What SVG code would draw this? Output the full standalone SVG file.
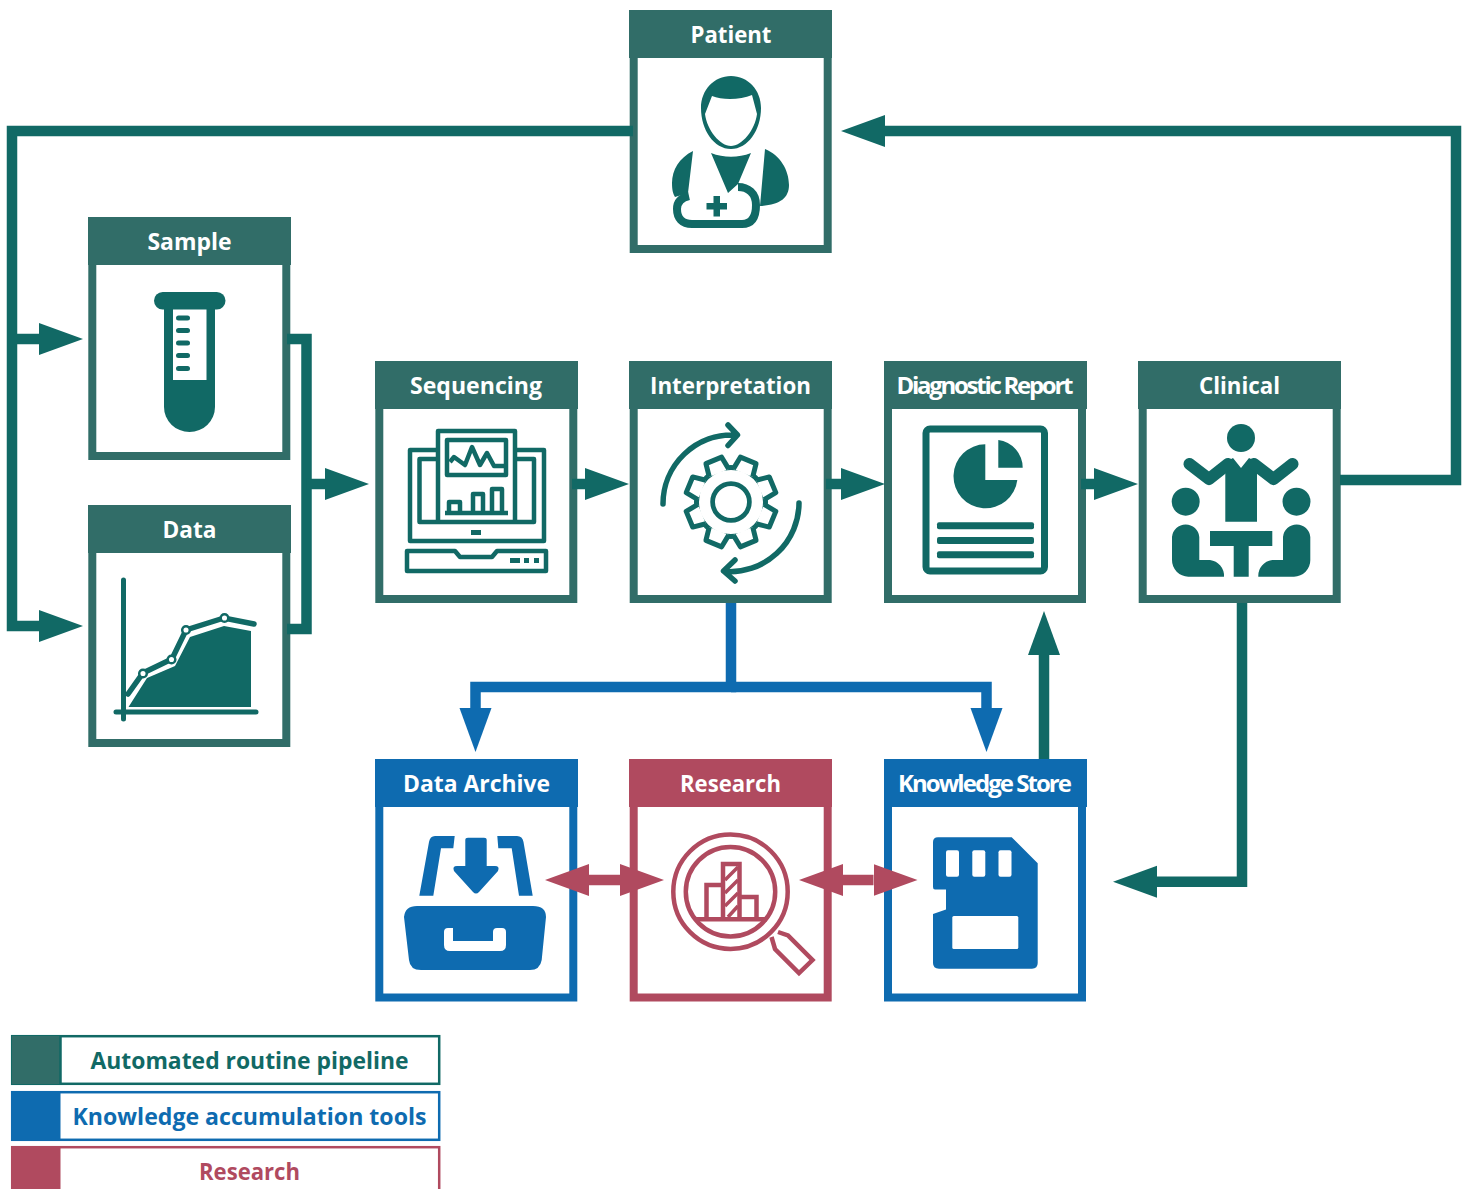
<svg xmlns="http://www.w3.org/2000/svg" width="1467" height="1189" viewBox="0 0 1467 1189">
<style>
.t{font-family:"Open Sans","Noto Sans",sans-serif;font-weight:700;text-anchor:middle}
.h{font-size:24px;fill:#fff}
.l{font-size:24px}
.body{fill:#fff;stroke-width:8}
.teal .body{stroke:#316d68}.teal .head{fill:#316d68}
.blue .body{stroke:#0e6bb0}.blue .head{fill:#0e6bb0}
.red .body{stroke:#b04a5f}.red .head{fill:#b04a5f}
.ti{fill:#116965}.bi{fill:#0e6bb0}
.tl{fill:none;stroke:#116965;stroke-width:4.5;stroke-linejoin:round}
.rl{fill:none;stroke:#b04a5f;stroke-width:4.5;stroke-linejoin:miter}
.c{fill:none;stroke-width:10.5;stroke-linejoin:miter}
.ct{stroke:#116965}.cb{stroke:#0e6bb0}.cr{stroke:#b04a5f}
</style>
<defs>
<marker id="at" markerUnits="userSpaceOnUse" markerWidth="45" markerHeight="33" refX="0" refY="16.5" orient="auto-start-reverse"><path d="M0 .5L44 16.5L0 32.500Z" fill="#116965"/></marker>
<marker id="ab" markerUnits="userSpaceOnUse" markerWidth="45" markerHeight="33" refX="0" refY="16.5" orient="auto-start-reverse"><path d="M0 .5L44 16.5L0 32.500Z" fill="#0e6bb0"/></marker>
<marker id="ar" markerUnits="userSpaceOnUse" markerWidth="45" markerHeight="33" refX="0" refY="16.5" orient="auto-start-reverse"><path d="M0 .5L44 16.5L0 32.500Z" fill="#b04a5f"/></marker>
</defs>

<g id="node-patient" class="teal">
<rect class="body" x="633.700" y="40" width="194" height="209"/><rect class="head" x="629" y="10" width="203" height="48"/>
<text class="t h" x="731" y="43" textLength="81" lengthAdjust="spacingAndGlyphs">Patient</text>
<path class="ti" fill-rule="evenodd" d="M731 76C748 76 761 90 761 108C761 130 748 149 731 149C714 149 701 130 701 108C701 90 714 76 731 76ZM705 114C707 130 720 146 731 146C742 146 755 130 757 114L752 95C740 100 722 100 712 96Z"/>
<path class="ti" d="M693 151C679 158 672 170 672 183C672 190 673 194 675 197L688 193ZM711 153C724 158 738 158 751 153L738 184L728 193ZM765 149C780 155 789 170 789 185C789 198 780 205 760 206Z"/>
<path d="M689 196C680 198 677 203 677 209C677 218 682 224 692 224L742 224C751 224 756 218 756 205C756 193 748 187 738 187" fill="none" stroke="#116965" stroke-width="8"/>
<path class="ti" d="M713.500 196H720V203H727V209.500H720V216.500H713.500V209.500H706.500V203H713.500Z"/>
</g>

<g id="node-sample" class="teal">
<rect class="body" x="92.300" y="247" width="194" height="209"/><rect class="head" x="88" y="217" width="203" height="48"/>
<text class="t h" x="189.500" y="250" textLength="84" lengthAdjust="spacingAndGlyphs">Sample</text>
<path class="ti" d="M164 300H215V407A25.500 25 0 0 1 164 407Z"/>
<rect class="ti" x="154" y="292" width="71.500" height="17.500" rx="8.700"/>
<rect x="173" y="309.500" width="33.500" height="70.500" fill="#fff"/>
<g class="ti"><rect x="176" y="315.500" width="14" height="5" rx="2.500"/><rect x="176" y="328" width="14" height="5" rx="2.500"/><rect x="176" y="340.500" width="14" height="5" rx="2.500"/><rect x="176" y="353" width="14" height="5" rx="2.500"/><rect x="176" y="366" width="14" height="5" rx="2.500"/></g>
</g>

<g id="node-data" class="teal">
<rect class="body" x="92.300" y="535" width="194" height="208"/><rect class="head" x="88" y="505" width="203" height="48"/>
<text class="t h" x="189.500" y="538" textLength="54" lengthAdjust="spacingAndGlyphs">Data</text>
<path class="ti" d="M128.500 707L147 678L175 666L190 637L224 626L251 631V707Z"/>
<path d="M123.500 580V719M116 712H256" fill="none" stroke="#116965" stroke-width="5" stroke-linecap="round"/>
<path d="M128 694L143 673L172 659L186 630L224 618L254 624" fill="none" stroke="#116965" stroke-width="5.500" stroke-linecap="round"/>
<g fill="#fff" stroke="#116965" stroke-width="2.500"><circle cx="143" cy="673.500" r="3.800"/><circle cx="171.500" cy="659.500" r="3.800"/><circle cx="186" cy="630" r="3.800"/><circle cx="224.500" cy="618" r="3.800"/></g>
</g>

<g id="node-sequencing" class="teal">
<rect class="body" x="379.300" y="391" width="194" height="208"/><rect class="head" x="375" y="361" width="203" height="48"/>
<text class="t h" x="476" y="394" textLength="132" lengthAdjust="spacingAndGlyphs">Sequencing</text>
<g class="tl"><path d="M438 450H410V541H544V450H515"/><path d="M438 459H419.500V522H534V459H515"/><path d="M438 522V431H515V522"/><rect x="447" y="440" width="59" height="35"/><path d="M450 462L454 457L465 465L472 447L480 465L487 453L494 466H506"/><path d="M445 513H508M449 513V502H460V513M473 513V494H483V513M492 513V489H502V513"/><path d="M407 551H455L460 557H492L497 551H546V571H407Z"/></g>
<g class="ti"><rect x="471" y="530" width="10" height="5"/><rect x="510" y="558" width="10" height="5"/><rect x="524" y="558" width="5" height="5"/><rect x="534" y="558" width="5" height="5"/></g>
</g>

<g id="node-interpretation" class="teal">
<rect class="body" x="633.700" y="391" width="194" height="208"/><rect class="head" x="629" y="361" width="203" height="48"/>
<text class="t h" x="730.500" y="394" textLength="161" lengthAdjust="spacingAndGlyphs">Interpretation</text>
<g transform="translate(731 502)" stroke="#116965" stroke-width="5" stroke-linejoin="round">
<circle r="34.500" fill="none"/><circle r="18.400" fill="none" stroke-width="4.700"/>
<g fill="#fff"><path transform="rotate(22.500)" d="M-10.500-31.500L-8.500-45H8.500L10.500-31.500"/><path transform="rotate(67.500)" d="M-10.500-31.500L-8.500-45H8.500L10.500-31.500"/><path transform="rotate(112.500)" d="M-10.500-31.500L-8.500-45H8.500L10.500-31.500"/><path transform="rotate(157.500)" d="M-10.500-31.500L-8.500-45H8.500L10.500-31.500"/><path transform="rotate(202.500)" d="M-10.500-31.500L-8.500-45H8.500L10.500-31.500"/><path transform="rotate(247.500)" d="M-10.500-31.500L-8.500-45H8.500L10.500-31.500"/><path transform="rotate(292.500)" d="M-10.500-31.500L-8.500-45H8.500L10.500-31.500"/><path transform="rotate(337.500)" d="M-10.500-31.500L-8.500-45H8.500L10.500-31.500"/></g>
</g>
<path d="M663 504A69 69 0 0 1 735 435M728 425L737.500 435L728 445.500M799 503A69 69 0 0 1 725 571.500M735 560L723.500 571L735 581" fill="none" stroke="#116965" stroke-width="5.500" stroke-linecap="round" stroke-linejoin="round"/>
</g>

<g id="node-diagnostic-report" class="teal">
<rect class="body" x="888" y="391" width="194" height="208"/><rect class="head" x="884" y="361" width="203" height="48"/>
<text class="t h" x="985" y="394" textLength="177" lengthAdjust="spacing">Diagnostic Report</text>
<rect x="926" y="429" width="118.500" height="142" rx="4" fill="none" stroke="#116965" stroke-width="7"/>
<path class="ti" d="M985.300 444.300V480H1017.300A32 32 0 1 1 985.300 444.300ZM998.300 440V467.700H1022.700A28 28 0 0 0 998.300 440Z"/>
<g class="ti"><rect x="937" y="522.300" width="97" height="7" rx="2"/><rect x="937" y="537" width="97" height="7" rx="2"/><rect x="937" y="551.300" width="97" height="7" rx="2"/></g>
</g>

<g id="node-clinical" class="teal">
<rect class="body" x="1142.700" y="391" width="194" height="208"/><rect class="head" x="1138" y="361" width="203" height="48"/>
<text class="t h" x="1239.500" y="394" textLength="81" lengthAdjust="spacingAndGlyphs">Clinical</text>
<g class="ti"><circle cx="1241" cy="438" r="14"/><circle cx="1185.700" cy="501.700" r="14"/><circle cx="1296.500" cy="501.700" r="14"/>
<path d="M1225.300 521.700V462L1233 458L1241 468L1249 458L1257 462V521.700Z"/>
<path d="M1172 537A13.700 13.700 0 0 1 1199.300 537V560H1210A16 16 0 0 1 1224 576.700H1188.300A16.500 16.500 0 0 1 1172 560Z"/>
<path d="M1310.300 537A13.700 13.700 0 0 0 1283 537V560H1272.300A16 16 0 0 0 1258.300 576.700H1294A16.500 16.500 0 0 0 1310.300 560Z"/>
<path d="M1210 531H1272.300V546H1248.700V576.700H1233.700V546H1210Z"/></g>
<path d="M1189.500 464L1209 479L1228 464M1292.500 464L1273.500 479L1254 464" fill="none" stroke="#116965" stroke-width="12" stroke-linecap="round" stroke-linejoin="round"/>
</g>

<g id="node-data-archive" class="blue">
<rect class="body" x="379.300" y="789" width="194" height="208.500"/><rect class="head" x="375" y="759" width="203" height="48"/>
<text class="t h" x="476.500" y="792" textLength="147" lengthAdjust="spacingAndGlyphs">Data Archive</text>
<path class="bi" d="M404 917Q405 906 417 906H533Q546 906 546 917L541.700 960Q540 970 530 970H421Q410 970 409 960Z"/>
<path fill="#fff" d="M444 932Q444 928 448 928H453V941H493V932Q493 928 497 928H502Q506 928 506 932V945Q506 951 500 951H450Q444 951 444 945Z"/>
<path class="bi" d="M468 837.700H484Q486.700 837.700 486.700 840V866H495Q500 866 498 871L479 892Q476 895 473 892L454 871Q452 866 457 866H465.300V840Q465.300 837.700 468 837.700Z"/>
<path class="bi" d="M419.300 895.700L429 842Q430 836 435 836H454.700L453.300 848.300H441L433.300 895.700ZM532.700 895.700L523.500 842Q522.500 836 517 836H497.300L498.300 848.300H511.700L519 895.700Z"/>
</g>

<g id="node-research" class="red">
<rect class="body" x="633.700" y="789" width="194" height="208.500"/><rect class="head" x="629" y="759" width="203" height="48"/>
<text class="t h" x="730.500" y="792" textLength="101" lengthAdjust="spacingAndGlyphs">Research</text>
<g class="rl"><circle cx="730.500" cy="891.700" r="57.200"/><circle cx="730.500" cy="891.700" r="44.700"/><path d="M695 919.300H767"/><path d="M706.500 919V885H723M723 919V864H739.500V919M739.500 897H756.500V919"/>
<path d="M725 880L738 867M725 893L738 880M725 906L738 893M728 917L738 906" stroke-width="3.500"/>
<path d="M771.500 937L775 949L799 973L812.500 960L788 935.500L778 932"/></g>
</g>

<g id="node-knowledge-store" class="blue">
<rect class="body" x="888" y="789" width="194" height="208.500"/><rect class="head" x="884" y="759" width="203" height="48"/>
<text class="t h" x="985" y="792" textLength="174" lengthAdjust="spacing">Knowledge Store</text>
<path class="bi" fill-rule="evenodd" d="M938 837.300H1011.700L1037.700 863.300V963Q1037.700 968.700 1032 968.700H939Q933 968.700 933 963V914L946 909.500V889.500H935Q933 889.500 933 887V842Q933 837.300 938 837.300Z"/>
<g fill="#fff"><rect x="946" y="850.300" width="13" height="26.400" rx="2"/><rect x="972.300" y="850.300" width="13" height="26.400" rx="2"/><rect x="998.500" y="850.300" width="13" height="26.400" rx="2"/><rect x="952.300" y="916" width="66" height="33" rx="1.500"/></g>
</g>

<g id="connectors">
<path class="c ct" d="M633 131H12V626H39" marker-end="url(#at)"/>
<path class="c ct" d="M12 339H39" marker-end="url(#at)"/>
<path class="c ct" d="M287 339H306.500V629H287" />
<path class="c ct" d="M306.500 484H325" marker-end="url(#at)"/>
<path class="c ct" d="M572 484H585" marker-end="url(#at)"/>
<path class="c ct" d="M826 484H841" marker-end="url(#at)"/>
<path class="c ct" d="M1081 484H1094" marker-end="url(#at)"/>
<path class="c ct" d="M1340 480H1456V131H885" marker-end="url(#at)"/>
<path class="c ct" d="M1242 603V881.700H1157" marker-end="url(#at)"/>
<path class="c ct" d="M1044 759V655" marker-end="url(#at)"/>
<path class="c cb" d="M731 603V687H475.500V708" marker-end="url(#ab)"/>
<path class="c cb" d="M731 687H986.500V708" marker-end="url(#ab)"/>
<path class="c cr" d="M589 880H620" marker-start="url(#ar)" marker-end="url(#ar)"/>
<path class="c cr" d="M843 880H873.500" marker-start="url(#ar)" marker-end="url(#ar)"/>
</g>

<g id="legend-automated">
<rect x="12.200" y="1036.200" width="427" height="47.600" fill="#fff" stroke="#116965" stroke-width="2.500"/><rect x="12" y="1036" width="48.500" height="48" fill="#316d68"/><path d="M60.500 1036V1084" stroke="#116965" stroke-width="2.500"/>
<text class="t l" x="249.500" y="1069" fill="#116965" textLength="318" lengthAdjust="spacingAndGlyphs">Automated routine pipeline</text>
</g>
<g id="legend-knowledge">
<rect x="12.200" y="1092.200" width="427" height="47.600" fill="#fff" stroke="#0e6bb0" stroke-width="2.500"/><rect x="12" y="1092" width="48.500" height="48" fill="#0e6bb0"/>
<text class="t l" x="249.500" y="1125" fill="#0e6bb0" textLength="354" lengthAdjust="spacingAndGlyphs">Knowledge accumulation tools</text>
</g>
<g id="legend-research">
<rect x="12.200" y="1147.200" width="427" height="47.600" fill="#fff" stroke="#b04a5f" stroke-width="2.500"/><rect x="12" y="1147" width="48.500" height="48" fill="#b04a5f"/>
<text class="t l" x="249.500" y="1180" fill="#b04a5f" textLength="101" lengthAdjust="spacingAndGlyphs">Research</text>
</g>
</svg>
